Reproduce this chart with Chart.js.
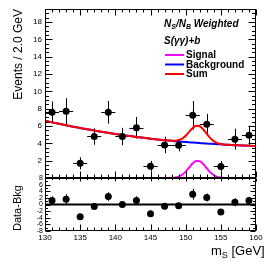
<!DOCTYPE html>
<html>
<head>
<meta charset="utf-8">
<script src="https://cdn.jsdelivr.net/npm/chart.js@4.4.0/dist/chart.umd.min.js"></script>
<style>
  html, body { margin: 0; padding: 0; background: #fff; }
  #wrap { position: relative; width: 274px; height: 266px; }
  #wrap canvas { position: absolute; left: 0; top: 0; }
</style>
</head>
<body>
<div id="wrap">
  <canvas id="mainPad" width="274" height="266"></canvas>
  <canvas id="ratioPad" width="274" height="266"></canvas>
</div>
<script>
// bins (2 GeV wide)
const binCenters = [131, 133, 135, 137, 139, 141, 143, 145, 147, 149, 151, 153, 155, 157, 159];
const events     = [7.58, 7.70, 1.69, 4.79, 7.58, 4.79, 5.79, 1.37, 3.82, 3.78, 7.23, 6.19, 1.34, 4.48, 4.94];
const eventErr   = [1.25, 1.50, 0.70, 0.95, 1.30, 1.00, 1.25, 0.60, 0.95, 0.70, 1.65, 1.20, 0.60, 1.20, 1.10];
const residuals  = [1.2, 1.6, -3.7, -0.6, 2.4, 0.0, 1.2, -2.8, -0.5, -0.4, 3.1, 2.1, -2.3, 0.7, 1.2];

// fitted curves
const curveX = [130, 131, 132, 133, 134, 135, 136, 137, 138, 139, 140, 141, 142, 143, 144, 145, 146, 147,
                148, 148.5, 149, 149.5, 150, 150.5, 151, 151.5, 152, 152.5, 153, 153.5, 154, 154.5, 155, 155.5, 156,
                157, 158, 159, 160];
const bkgCurve = [6.60, 6.42, 6.25, 6.08, 5.92, 5.77, 5.62, 5.48, 5.34, 5.21, 5.08, 4.96, 4.85, 4.74, 4.64, 4.54, 4.45, 4.37,
                  4.29, 4.25, 4.22, 4.18, 4.15, 4.12, 4.09, 4.06, 4.03, 4.00, 3.98, 3.95, 3.93, 3.90, 3.88, 3.85, 3.83,
                  3.79, 3.75, 3.71, 3.68];
const sigCurve = [0, 0, 0, 0, 0, 0, 0, 0, 0, 0, 0, 0, 0, 0, 0, 0, 0, 0,
                  0.02, 0.06, 0.16, 0.37, 0.73, 1.21, 1.69, 1.97, 1.94, 1.60, 1.11, 0.65, 0.32, 0.13, 0.05, 0.01, 0,
                  0, 0, 0, 0];
const sigStart = 143;

const xTicks = [130, 135, 140, 145, 150, 155, 160];

const FONT = 'Liberation Sans, Arial, Helvetica, sans-serif';

const pts = (xs, ys) => xs.map((x, i) => ({x: x, y: ys[i]}));

// ROOT style frame with inward ticks on all four sides
const rootFrame = {
  id: 'rootFrame',
  afterDraw(chart, args, opts) {
    const {ctx, chartArea: a, scales} = chart;
    const xs = scales.x, ys = scales.y;
    const L = Math.round(a.left) + 0.5, R = Math.round(a.right) - 0.5;
    const T = Math.round(a.top) + 0.5, B = Math.round(a.bottom) - 0.5;
    ctx.save();
    ctx.strokeStyle = '#000';
    ctx.lineWidth = 1;
    ctx.beginPath();
    for (let v = xs.min; v <= xs.max + 1e-6; v += 1) {
      const px = Math.round(xs.getPixelForValue(v)) + 0.5;
      const len = (Math.abs(v % 5) < 1e-6) ? opts.xMajor : opts.xMinor;
      ctx.moveTo(px, B); ctx.lineTo(px, B - len);
      ctx.moveTo(px, T); ctx.lineTo(px, T + len * opts.topScale);
    }
    for (let v = ys.min; v <= ys.max + 1e-6; v += opts.yMinorStep) {
      const py = Math.round(ys.getPixelForValue(v)) + 0.5;
      const major = Math.abs(Math.round(v / opts.yMajorStep) * opts.yMajorStep - v) < 1e-6;
      const len = major ? opts.yMajor : opts.yMinor;
      ctx.moveTo(L, py); ctx.lineTo(L + len, py);
      ctx.moveTo(R, py); ctx.lineTo(R - len, py);
    }
    ctx.stroke();
    ctx.strokeRect(L, T, R - L, B - T);
    ctx.restore();
  }
};

// horizontal (bin width) and vertical error bars
const errorBars = {
  id: 'errorBars',
  beforeDatasetsDraw(chart) {
    const {ctx, scales} = chart;
    ctx.save();
    ctx.strokeStyle = '#000';
    ctx.lineWidth = 1;
    ctx.beginPath();
    chart.data.datasets.forEach(ds => {
      if (!ds.errY) return;
      ds.data.forEach((p, i) => {
        const cx = Math.round(scales.x.getPixelForValue(p.x)) + 0.5;
        const cy = Math.round(scales.y.getPixelForValue(p.y)) + 0.5;
        ctx.moveTo(scales.x.getPixelForValue(p.x - ds.halfWidth), cy);
        ctx.lineTo(scales.x.getPixelForValue(p.x + ds.halfWidth), cy);
        ctx.moveTo(cx, scales.y.getPixelForValue(p.y - ds.errY[i]));
        ctx.lineTo(cx, scales.y.getPixelForValue(p.y + ds.errY[i]));
      });
    });
    ctx.stroke();
    ctx.restore();
  }
};

// text with subscripts: parts = [[text, isSub], ...]
function drawParts(ctx, parts, x, y, size, style) {
  parts.forEach(([t, sub]) => {
    ctx.font = style + ' ' + (sub ? Math.round(size * 0.7) : size) + 'px ' + FONT;
    ctx.fillText(t, x, sub ? y + size * 0.25 : y);
    x += ctx.measureText(t).width;
  });
}

const mainText = {
  id: 'mainText',
  afterDraw(chart) {
    const ctx = chart.ctx;
    ctx.save();
    ctx.fillStyle = '#000';
    ctx.textBaseline = 'alphabetic';
    drawParts(ctx, [['N', false], ['S', true], ['/N', false], ['B', true], [' Weighted', false]], 164, 26.5, 10, 'italic bold');
    drawParts(ctx, [['S(\u03b3\u03b3)+b', false]], 164, 44, 10, 'italic bold');
    const entries = [chart.data.datasets[3], chart.data.datasets[2], chart.data.datasets[1]];
    entries.forEach((ds, i) => {
      const y = 55 + i * 9.5;
      ctx.strokeStyle = ds.borderColor;
      ctx.lineWidth = 2;
      ctx.beginPath();
      ctx.moveTo(165, y); ctx.lineTo(184, y);
      ctx.stroke();
      ctx.font = 'bold 10px ' + FONT;
      ctx.textBaseline = 'middle';
      ctx.fillText(ds.label, 186, y + 0.5);
    });
    ctx.restore();
  }
};

const ratioText = {
  id: 'ratioText',
  afterDraw(chart) {
    const ctx = chart.ctx;
    ctx.save();
    ctx.fillStyle = '#000';
    ctx.textBaseline = 'alphabetic';
    drawParts(ctx, [['m', false], ['S', true], [' [GeV]', false]], 211, 255, 13, 'normal');
    ctx.restore();
  }
};

const sumCurve = bkgCurve.map((b, i) => b + sigCurve[i]);
const sigX = curveX.filter(x => x >= sigStart);
const sigY = sigCurve.filter((s, i) => curveX[i] >= sigStart);

const lineStyle = {showLine: true, pointRadius: 0, borderWidth: 2, cubicInterpolationMode: 'monotone', fill: false};

new Chart(document.getElementById('mainPad'), {
  type: 'scatter',
  data: {
    datasets: [
      {label: 'Data', data: pts(binCenters, events), errY: eventErr, halfWidth: 1,
       pointRadius: 3.5, pointBackgroundColor: '#000', pointBorderWidth: 0},
      Object.assign({label: 'Sum', data: pts(curveX, sumCurve), borderColor: '#ff0000'}, lineStyle),
      Object.assign({label: 'Background', data: pts(curveX, bkgCurve), borderColor: '#0000ff'}, lineStyle),
      Object.assign({label: 'Signal', data: pts(sigX, sigY), borderColor: '#ff00ff'}, lineStyle)
    ]
  },
  options: {
    responsive: false,
    animation: false,
    devicePixelRatio: 1,
    layout: {padding: {top: 9, bottom: 88, left: 0, right: 18}},
    plugins: {
      legend: {display: false},
      tooltip: {enabled: false},
      rootFrame: {xMajor: 6, xMinor: 3, topScale: 1, yMajor: 7, yMinor: 3.5, yMajorStep: 2, yMinorStep: 0.5}
    },
    scales: {
      x: {type: 'linear', min: 130, max: 160, display: false},
      y: {
        type: 'linear', min: 0, max: 19.5,
        afterFit(s) { s.width = 45; },
        grid: {display: false, drawTicks: false},
        border: {display: false},
        ticks: {stepSize: 2, includeBounds: false, padding: 3, color: '#000',
                font: {family: FONT, size: 8},
                callback: v => (v > 0 && v % 2 === 0) ? v : ''},
        title: {display: true, text: 'Events / 2.0 GeV', align: 'end', color: '#000',
                font: {family: FONT, size: 12}, padding: {top: 11, bottom: 0}}
      }
    }
  },
  plugins: [errorBars, rootFrame, mainText]
});

new Chart(document.getElementById('ratioPad'), {
  type: 'scatter',
  data: {
    datasets: [
      {label: 'Data-Bkg', data: pts(binCenters, residuals), errY: eventErr, halfWidth: 0,
       pointRadius: 3.5, pointBackgroundColor: '#000', pointBorderWidth: 0},
      Object.assign({label: 'zero', data: pts([130, 160], [0, 0]), borderColor: '#000'}, lineStyle)
    ]
  },
  options: {
    responsive: false,
    animation: false,
    devicePixelRatio: 1,
    layout: {padding: {top: 178, bottom: 0, left: 0, right: 18}},
    plugins: {
      legend: {display: false},
      tooltip: {enabled: false},
      rootFrame: {xMajor: 6, xMinor: 3, topScale: 0.5, yMajor: 5, yMinor: 2.5, yMajorStep: 2, yMinorStep: 1}
    },
    scales: {
      x: {
        type: 'linear', min: 130, max: 160,
        afterFit(s) { s.height = 35; },
        grid: {display: false, drawTicks: false},
        border: {display: false},
        afterBuildTicks(s) { s.ticks = xTicks.map(v => ({value: v})); },
        ticks: {padding: 2, color: '#000', font: {family: FONT, size: 8}, maxRotation: 0}
      },
      y: {
        type: 'linear', min: -8, max: 8,
        afterFit(s) { s.width = 45; },
        grid: {display: false, drawTicks: false},
        border: {display: false},
        ticks: {stepSize: 2, autoSkip: false, padding: 2, color: '#000', font: {family: FONT, size: 7}},
        title: {display: true, text: 'Data-Bkg', align: 'start', color: '#000',
                font: {family: FONT, size: 11}, padding: {top: 11, bottom: 0}}
      }
    }
  },
  plugins: [errorBars, rootFrame, ratioText]
});
</script>
</body>
</html>
